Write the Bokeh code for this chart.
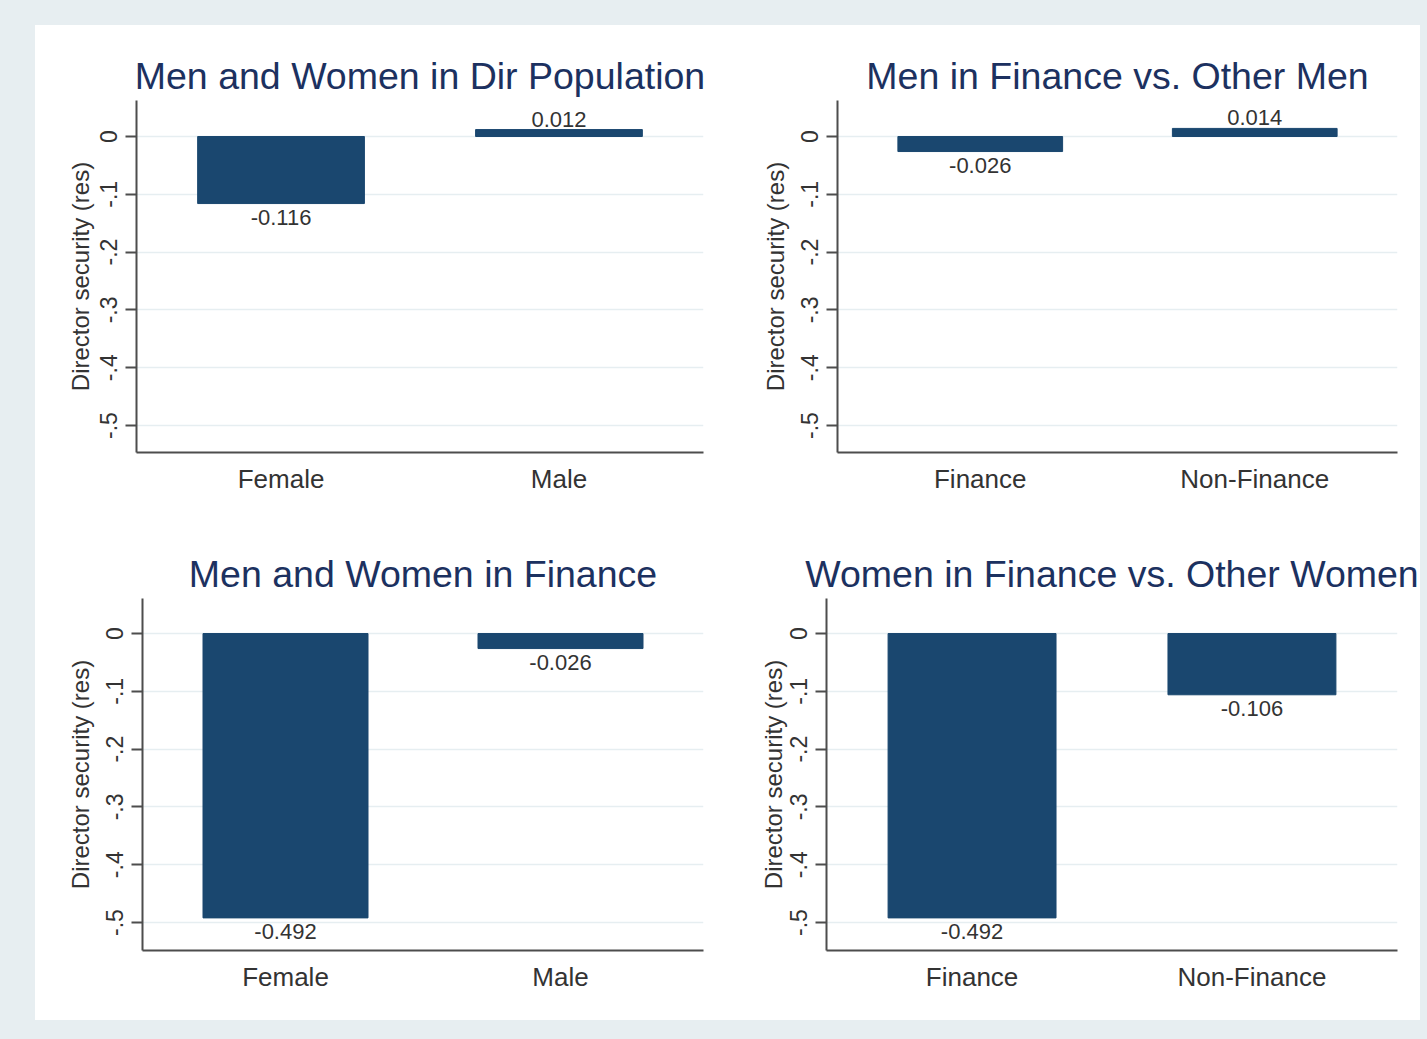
from bokeh.plotting import figure
from bokeh.models import FixedTicker, Range1d, FactorRange, ColumnDataSource
from bokeh.layouts import column, row
from bokeh.core.properties import value
from bokeh.embed import file_html
from bokeh.resources import INLINE

# ---------------- data ----------------
TITLES = ["Men and Women in Dir Population", "Men in Finance vs. Other Men",
          "Men and Women in Finance", "Women in Finance vs. Other Women"]
CATS_1 = ["Female", "Male"]
VALS_1 = [-0.116, 0.012]
CATS_2 = ["Finance", "Non-Finance"]
VALS_2 = [-0.026, 0.014]
CATS_3 = ["Female", "Male"]
VALS_3 = [-0.492, -0.026]
CATS_4 = ["Finance", "Non-Finance"]
VALS_4 = [-0.492, -0.106]
YTICKS = [0, -0.1, -0.2, -0.3, -0.4, -0.5]
YTICK_LABELS = ["0", "-.1", "-.2", "-.3", "-.4", "-.5"]
YLABEL = "Director security (res)"

# ---------------- style ----------------
BAR = "#1a476f"
TITLE_C = "#1c3160"
TXT = "#333333"
AX = "#4d4d4d"
GRID = "#e6eef1"
OUTER = "#e7eef1"
FONT = "Liberation Sans"


def make(title, cats, vals, width, height, borders, yr, label_standoff):
    left, right, top, bottom = borders
    p = figure(width=width, height=height,
               x_range=FactorRange(*cats, range_padding=0.02),
               y_range=Range1d(*yr), output_backend="svg", toolbar_location=None,
               title=title, min_border_left=left,
               min_border_right=right, min_border_top=top,
               min_border_bottom=bottom, background_fill_color="white",
               border_fill_color="white", outline_line_color=None)
    p.title.text_font = FONT
    p.title.text_font_size = "37.5px"
    p.title.text_font_style = "normal"
    p.title.text_color = TITLE_C
    p.title.align = "center"
    p.title.standoff = 8

    src = ColumnDataSource(dict(x=cats, top=vals))
    p.vbar(x="x", top="top", bottom=0, width=0.6, source=src,
           fill_color=BAR, line_color=BAR, line_width=1)

    neg = ColumnDataSource(dict(x=[c for c, v in zip(cats, vals) if v < 0],
                                y=[v for v in vals if v < 0],
                                t=["%.3f" % v for v in vals if v < 0]))
    pos = ColumnDataSource(dict(x=[c for c, v in zip(cats, vals) if v >= 0],
                                y=[v for v in vals if v >= 0],
                                t=["%.3f" % v for v in vals if v >= 0]))
    p.text(x="x", y="y", text="t", source=neg, text_align="center",
           text_baseline="top", y_offset=6, text_font=value(FONT),
           text_font_size="22px", text_color=TXT)
    p.text(x="x", y="y", text="t", source=pos, text_align="center",
           text_baseline="bottom", y_offset=-3, text_font=value(FONT),
           text_font_size="22px", text_color=TXT)

    # x axis
    xa = p.xaxis[0]
    xa.axis_line_color = AX
    xa.axis_line_width = 2
    xa.major_tick_in = 0
    xa.major_tick_out = 0
    xa.minor_tick_out = 0
    xa.major_label_text_font = FONT
    xa.major_label_text_font_size = "26px"
    xa.major_label_text_color = TXT
    xa.major_label_standoff = 11

    # y axis
    ya = p.yaxis[0]
    ya.ticker = FixedTicker(ticks=YTICKS)
    ya.major_label_overrides = {t: l for t, l in zip(YTICKS, YTICK_LABELS)}
    ya.axis_line_color = AX
    ya.axis_line_width = 2
    ya.major_tick_line_color = AX
    ya.major_tick_line_width = 2
    ya.major_tick_in = 0
    ya.major_tick_out = 11
    ya.minor_tick_line_color = None
    ya.major_label_orientation = "vertical"
    ya.major_label_text_font = FONT
    ya.major_label_text_font_size = "23px"
    ya.major_label_text_color = TXT
    ya.major_label_standoff = 8
    ya.axis_label = YLABEL
    ya.axis_label_text_font = FONT
    ya.axis_label_text_font_size = "24px"
    ya.axis_label_text_font_style = "normal"
    ya.axis_label_text_color = TXT
    ya.axis_label_standoff = label_standoff

    p.xgrid.visible = False
    p.ygrid.ticker = FixedTicker(ticks=YTICKS)
    p.ygrid.grid_line_color = GRID
    p.ygrid.grid_line_width = 1.5
    return p


YR_TOP = (-0.5467, 0.0623)
YR_BOT = (-0.5484, 0.0606)

p1 = make(TITLES[0], CATS_1, VALS_1, 710, 495, (101, 42, 75, 68), YR_TOP, 4)
p2 = make(TITLES[1], CATS_2, VALS_2, 675, 495, (92, 23, 75, 68), YR_TOP, 10)
p3 = make(TITLES[2], CATS_3, VALS_3, 710, 500, (107, 42, 78, 70), YR_BOT, 10)
p4 = make(TITLES[3], CATS_4, VALS_4, 675, 500, (81, 23, 78, 70), YR_BOT, 1)

inner = column(row(p1, p2, spacing=0, styles={"background-color": "white"}),
               row(p3, p4, spacing=0, styles={"background-color": "white"}),
               spacing=0, margin=(25, 7, 19, 35),
               styles={"background-color": "white"})
layout = column(inner, styles={"background-color": OUTER})

open("out.html", "w").write(file_html(layout, INLINE))
